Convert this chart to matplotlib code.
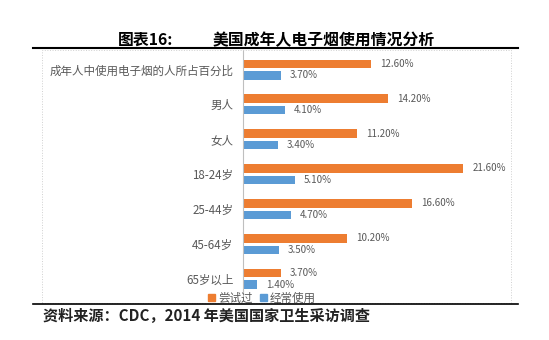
import numpy as np
import matplotlib
matplotlib.use("Agg")
import matplotlib.pyplot as plt
from matplotlib.patches import Rectangle
from matplotlib.lines import Line2D

plt.rcParams['font.family'] = ['Noto Sans CJK SC', 'DejaVu Sans']

# data
categories = ['成年人中使用电子烟的人所占百分比', '男人', '女人', '18-24岁', '25-44岁', '45-64岁', '65岁以上']
tried = [12.6, 14.2, 11.2, 21.6, 16.6, 10.2, 3.7]
regular = [3.7, 4.1, 3.4, 5.1, 4.7, 3.5, 1.4]
series_names = ['尝试过', '经常使用']

ORANGE = '#ED7D31'
BLUE = '#5B9BD5'
GRAY = '#595959'

W, H = 549, 340
fig = plt.figure(figsize=(W / 100, H / 100), dpi=100)


def fx(x):
    return x / W


def fy(y):
    return 1 - y / H


# plot area (pixel positions from the reference)
left, right, top, bottom = 243, 510, 50, 296
ax = fig.add_axes([fx(left), fy(bottom), fx(right - left), (bottom - top) / H])

step = 34.9
y = np.arange(len(categories))
off = 5.75 / step
bh = 8.5 / step

ax.barh(y - off, tried, height=bh, color=ORANGE)
ax.barh(y + off, regular, height=bh, color=BLUE)

ax.set_xlim(0, (right - left) / 10.19)
ax.set_ylim(6 + (bottom - 279.0) / step, -(69.5 - top) / step)

for i in range(len(categories)):
    ax.text(tried[i] + 0.9, y[i] - off, f'{tried[i]:.2f}%', va='center', ha='left',
            fontsize=7, color=GRAY)
    ax.text(regular[i] + 0.9, y[i] + off, f'{regular[i]:.2f}%', va='center', ha='left',
            fontsize=7, color=GRAY)

ax.set_yticks(y)
ax.set_yticklabels(categories, fontsize=8.3, color=GRAY)
ax.tick_params(axis='y', length=0, pad=7)
ax.set_xticks([])
for s in ['top', 'right', 'bottom']:
    ax.spines[s].set_visible(False)
ax.spines['left'].set_color('#BFBFBF')
ax.spines['left'].set_linewidth(0.8)
ax.patch.set_visible(False)

# chart border (dotted, light gray)
fig.patches.append(Rectangle((fx(41.7), fy(303)), fx(510.7 - 41.7), (303 - 50) / H,
                             transform=fig.transFigure, fill=False,
                             edgecolor='#D0D0D0', linestyle=':', linewidth=0.7))

# title and rules
fig.text(fx(118), fy(40), '图表16:', fontsize=11.4, fontweight='bold', va='center', ha='left')
fig.text(fx(213), fy(40), '美国成年人电子烟使用情况分析', fontsize=11.4, fontweight='bold',
         va='center', ha='left')
fig.add_artist(Line2D([fx(33), fx(518)], [fy(47.7), fy(47.7)], color='black', lw=1.5,
                      transform=fig.transFigure))
fig.add_artist(Line2D([fx(33), fx(518)], [fy(303.5), fy(303.5)], color='black', lw=1.2,
                      transform=fig.transFigure))

# legend
handles = [Rectangle((0, 0), 1, 1, color=ORANGE), Rectangle((0, 0), 1, 1, color=BLUE)]
fig.legend(handles, series_names, loc='center', bbox_to_anchor=(fx(262), fy(298)),
           ncol=2, frameon=False, fontsize=8.3, labelcolor=GRAY, handlelength=0.6,
           handleheight=0.6, handletextpad=0.3, columnspacing=0.6, borderpad=0)

# source note
fig.text(fx(43), fy(316), '资料来源：CDC，2014 年美国国家卫生采访调查', fontsize=10.9,
         style='italic', fontweight='bold', va='center', ha='left', color='#222222')

fig.savefig('out.png', dpi=100)
